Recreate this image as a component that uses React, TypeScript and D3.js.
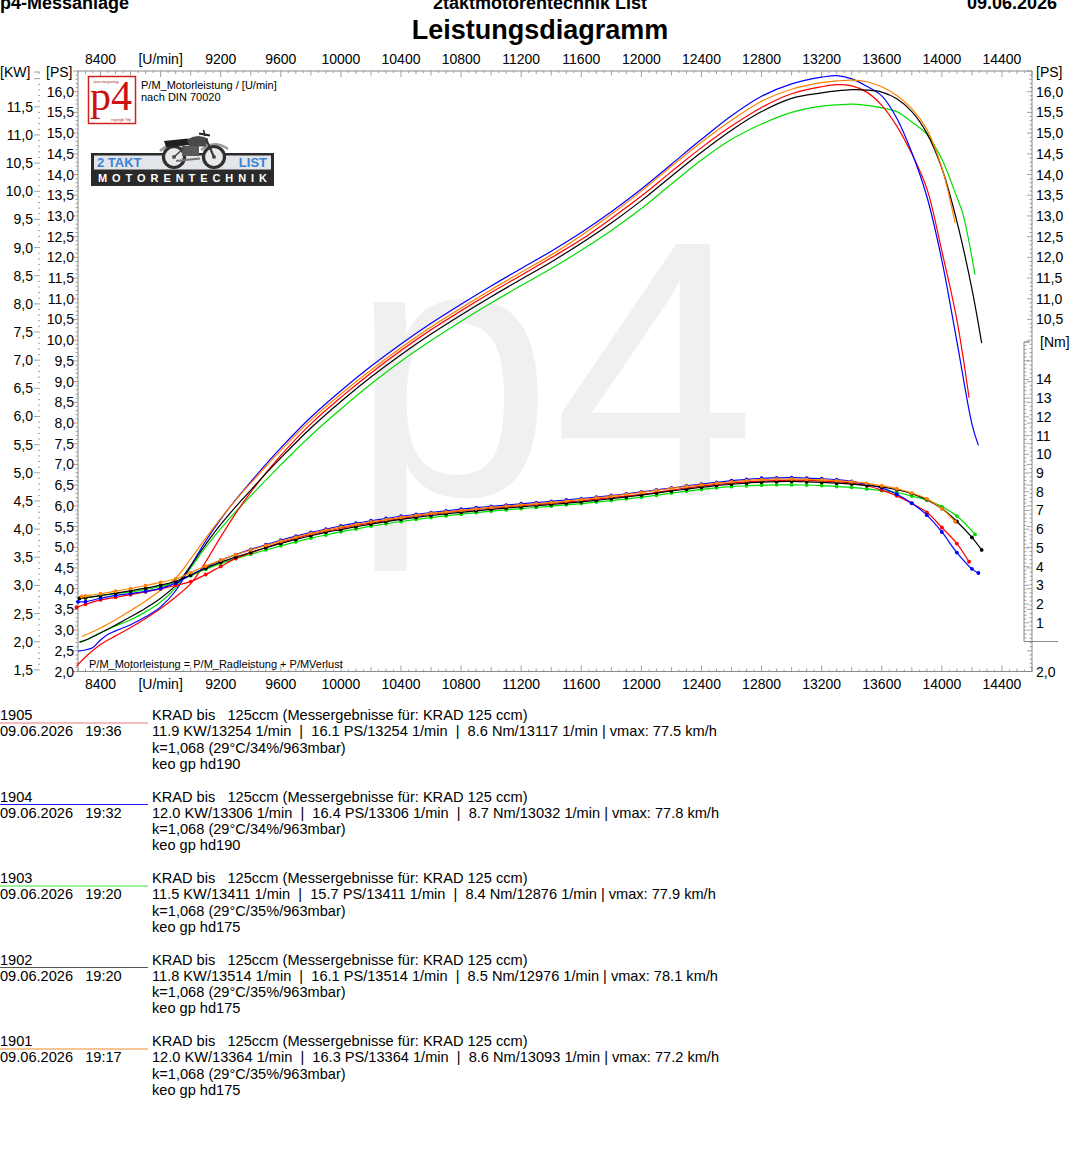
import React from 'react';
import * as d3 from 'd3';

type Pt = [number, number];

// ---------- DATA ----------
const runIds = ['1905', '1904', '1903', '1902', '1901'];
const runColors = ['#ff0000', '#0000ff', '#00dd00', '#000000', '#ff8000'];
const legendLineColors = ['#f07878', '#1c1cff', '#3ce03c', '#555555', '#f08a28'];
const runDate = '09.06.2026';
const runTimes = ['19:36', '19:32', '19:20', '19:20', '19:17'];
const runTitle = 'KRAD bis   125ccm (Messergebnisse für: KRAD 125 ccm)';
const runResults = [
  '11.9 KW/13254 1/min  |  16.1 PS/13254 1/min  |  8.6 Nm/13117 1/min | vmax: 77.5 km/h',
  '12.0 KW/13306 1/min  |  16.4 PS/13306 1/min  |  8.7 Nm/13032 1/min | vmax: 77.8 km/h',
  '11.5 KW/13411 1/min  |  15.7 PS/13411 1/min  |  8.4 Nm/12876 1/min | vmax: 77.9 km/h',
  '11.8 KW/13514 1/min  |  16.1 PS/13514 1/min  |  8.5 Nm/12976 1/min | vmax: 78.1 km/h',
  '12.0 KW/13364 1/min  |  16.3 PS/13364 1/min  |  8.6 Nm/13093 1/min | vmax: 77.2 km/h',
];
const runConditions = [
  'k=1,068 (29°C/34%/963mbar)',
  'k=1,068 (29°C/34%/963mbar)',
  'k=1,068 (29°C/35%/963mbar)',
  'k=1,068 (29°C/35%/963mbar)',
  'k=1,068 (29°C/35%/963mbar)',
];
const runNotes = ['keo gp hd190', 'keo gp hd190', 'keo gp hd175', 'keo gp hd175', 'keo gp hd175'];

// Power [rpm, PS]
const ps1905: Pt[] = [[8240,2.13],[8300,2.35],[8400,2.65],[8500,2.86],[8600,3.06],[8700,3.28],[8800,3.52],[8900,3.80],[9000,4.12],[9100,4.65],[9200,5.25],[9300,5.82],[9400,6.33],[9500,6.79],[9600,7.22],[9800,7.98],[10000,8.62],[10200,9.21],[10400,9.75],[10600,10.25],[10800,10.71],[11000,11.15],[11200,11.57],[11400,11.99],[11600,12.43],[11800,12.94],[12000,13.48],[12200,14.07],[12400,14.65],[12600,15.17],[12800,15.62],[13000,15.95],[13200,16.12],[13300,16.17],[13400,16.14],[13500,15.99],[13600,15.67],[13700,15.17],[13800,14.50],[13900,13.66],[14000,12.15],[14100,10.49],[14181,8.61]];
const ps1904: Pt[] = [[8250,2.49],[8300,2.52],[8350,2.58],[8400,2.76],[8450,2.90],[8500,2.98],[8600,3.13],[8700,3.32],[8800,3.56],[8900,3.95],[9000,4.55],[9100,5.15],[9200,5.68],[9300,6.15],[9400,6.58],[9500,7.00],[9600,7.40],[9800,8.14],[10000,8.78],[10200,9.37],[10400,9.91],[10600,10.41],[10800,10.87],[11000,11.31],[11200,11.73],[11400,12.15],[11600,12.60],[11800,13.10],[12000,13.65],[12200,14.25],[12400,14.85],[12600,15.42],[12800,15.89],[13000,16.19],[13200,16.35],[13300,16.39],[13400,16.31],[13500,16.13],[13600,15.90],[13700,15.36],[13800,14.53],[13900,13.47],[14000,11.93],[14100,9.97],[14200,7.98],[14243,7.46]];
const ps1903: Pt[] = [[8260,2.71],[8300,2.75],[8400,2.94],[8500,3.10],[8600,3.25],[8700,3.44],[8800,3.68],[8900,4.02],[9000,4.50],[9100,5.00],[9200,5.45],[9300,5.86],[9400,6.24],[9500,6.62],[9600,6.99],[9800,7.70],[10000,8.34],[10200,8.94],[10400,9.49],[10600,9.99],[10800,10.46],[11000,10.90],[11200,11.32],[11400,11.73],[11600,12.17],[11800,12.65],[12000,13.18],[12200,13.77],[12400,14.35],[12600,14.85],[12800,15.22],[13000,15.50],[13200,15.65],[13300,15.68],[13400,15.70],[13500,15.67],[13600,15.61],[13700,15.52],[13800,15.27],[13900,14.97],[14000,14.37],[14100,13.45],[14140,13.05],[14221,11.58]];
const ps1902: Pt[] = [[8260,2.71],[8300,2.76],[8400,2.93],[8500,3.12],[8600,3.32],[8700,3.53],[8800,3.77],[8900,4.08],[9000,4.55],[9100,5.07],[9200,5.55],[9300,5.98],[9400,6.38],[9500,6.78],[9600,7.16],[9800,7.88],[10000,8.52],[10200,9.11],[10400,9.65],[10600,10.15],[10800,10.61],[11000,11.05],[11200,11.47],[11400,11.89],[11600,12.34],[11800,12.83],[12000,13.37],[12200,13.96],[12400,14.54],[12600,15.07],[12800,15.52],[13000,15.84],[13200,15.97],[13300,16.02],[13400,16.05],[13500,16.04],[13600,15.99],[13700,15.83],[13800,15.52],[13900,15.00],[14000,14.15],[14100,12.87],[14200,11.24],[14265,9.93]];
const ps1901: Pt[] = [[8275,2.84],[8300,2.88],[8400,3.05],[8500,3.25],[8600,3.47],[8700,3.70],[8800,3.96],[8900,4.25],[9000,4.72],[9100,5.22],[9200,5.70],[9300,6.14],[9400,6.55],[9500,6.95],[9600,7.34],[9800,8.07],[10000,8.70],[10200,9.28],[10400,9.82],[10600,10.32],[10800,10.78],[11000,11.22],[11200,11.64],[11400,12.06],[11600,12.53],[11800,13.04],[12000,13.60],[12200,14.20],[12400,14.78],[12600,15.31],[12800,15.77],[13000,16.06],[13200,16.22],[13300,16.26],[13400,16.28],[13500,16.24],[13600,16.12],[13700,15.91],[13800,15.59],[13900,15.09],[14000,14.16],[14088,12.83]];

// Torque [rpm, Nm]
const nm1905: Pt[] = [[8240,1.82],[8300,1.99],[8400,2.22],[8500,2.36],[8600,2.50],[8700,2.65],[8800,2.81],[8900,3.00],[9000,3.20],[9100,3.58],[9200,4.01],[9300,4.44],[9400,4.73],[9500,5.02],[9600,5.28],[9700,5.50],[9800,5.72],[9900,5.89],[10000,6.05],[10100,6.20],[10200,6.34],[10300,6.46],[10400,6.58],[10500,6.69],[10600,6.79],[10700,6.89],[10800,6.97],[10900,7.05],[11000,7.13],[11100,7.19],[11200,7.26],[11300,7.32],[11400,7.38],[11500,7.45],[11600,7.52],[11700,7.61],[11800,7.69],[11900,7.77],[12000,7.86],[12100,7.96],[12200,8.09],[12300,8.20],[12400,8.30],[12500,8.39],[12600,8.46],[12700,8.53],[12800,8.57],[12900,8.60],[13000,8.62],[13100,8.61],[13200,8.58],[13300,8.54],[13400,8.46],[13500,8.32],[13600,8.09],[13700,7.78],[13800,7.38],[13900,6.90],[14000,6.09],[14100,5.23],[14181,4.26]];
const nm1904: Pt[] = [[8250,2.12],[8300,2.13],[8400,2.31],[8500,2.46],[8600,2.56],[8700,2.68],[8800,2.84],[8900,3.12],[9000,3.55],[9100,3.97],[9200,4.34],[9300,4.64],[9400,4.92],[9500,5.17],[9600,5.41],[9700,5.63],[9800,5.83],[9900,6.00],[10000,6.17],[10100,6.32],[10200,6.45],[10300,6.57],[10400,6.69],[10500,6.79],[10600,6.89],[10700,6.98],[10800,7.07],[10900,7.15],[11000,7.22],[11100,7.29],[11200,7.36],[11300,7.42],[11400,7.49],[11500,7.56],[11600,7.63],[11700,7.71],[11800,7.80],[11900,7.89],[12000,7.99],[12100,8.10],[12200,8.20],[12300,8.31],[12400,8.41],[12500,8.50],[12600,8.59],[12700,8.66],[12800,8.72],[12900,8.74],[13000,8.75],[13100,8.73],[13200,8.70],[13300,8.65],[13400,8.55],[13500,8.39],[13600,8.21],[13700,7.87],[13800,7.39],[13900,6.75],[14000,5.85],[14100,4.75],[14200,3.88],[14243,3.66]];
const nm1903: Pt[] = [[8260,2.30],[8300,2.33],[8400,2.46],[8500,2.56],[8600,2.65],[8700,2.78],[8800,2.94],[8900,3.17],[9000,3.51],[9100,3.86],[9200,4.16],[9300,4.43],[9400,4.66],[9500,4.89],[9600,5.11],[9700,5.32],[9800,5.52],[9900,5.69],[10000,5.86],[10100,6.01],[10200,6.16],[10300,6.29],[10400,6.41],[10500,6.52],[10600,6.62],[10700,6.71],[10800,6.80],[10900,6.88],[11000,6.96],[11100,7.03],[11200,7.10],[11300,7.16],[11400,7.23],[11500,7.30],[11600,7.37],[11700,7.45],[11800,7.53],[11900,7.62],[12000,7.71],[12100,7.81],[12200,7.93],[12300,8.03],[12400,8.13],[12500,8.21],[12600,8.27],[12700,8.32],[12800,8.35],[12900,8.37],[13000,8.37],[13100,8.36],[13200,8.33],[13300,8.28],[13400,8.23],[13500,8.15],[13600,8.06],[13700,7.96],[13800,7.77],[13900,7.56],[14000,7.21],[14100,6.70],[14221,5.72]];
const nm1902: Pt[] = [[8260,2.30],[8300,2.34],[8400,2.45],[8500,2.58],[8600,2.71],[8700,2.85],[8800,3.01],[8900,3.22],[9000,3.55],[9100,3.91],[9200,4.24],[9300,4.51],[9400,4.77],[9500,5.01],[9600,5.24],[9700,5.45],[9800,5.65],[9900,5.83],[10000,5.98],[10100,6.13],[10200,6.27],[10300,6.40],[10400,6.52],[10500,6.63],[10600,6.73],[10700,6.82],[10800,6.90],[10900,6.98],[11000,7.06],[11100,7.13],[11200,7.19],[11300,7.26],[11400,7.32],[11500,7.39],[11600,7.46],[11700,7.54],[11800,7.63],[11900,7.72],[12000,7.82],[12100,7.93],[12200,8.04],[12300,8.14],[12400,8.24],[12500,8.33],[12600,8.40],[12700,8.46],[12800,8.51],[12900,8.54],[13000,8.55],[13100,8.53],[13200,8.50],[13300,8.46],[13400,8.41],[13500,8.34],[13600,8.26],[13700,8.11],[13800,7.90],[13900,7.58],[14000,7.10],[14100,6.41],[14200,5.56],[14265,4.89]];
const nm1901: Pt[] = [[8275,2.41],[8300,2.44],[8400,2.55],[8500,2.69],[8600,2.83],[8700,2.99],[8800,3.16],[8900,3.35],[9000,3.68],[9100,4.03],[9200,4.35],[9300,4.64],[9400,4.89],[9500,5.13],[9600,5.36],[9700,5.57],[9800,5.78],[9900,5.95],[10000,6.11],[10100,6.25],[10200,6.39],[10300,6.51],[10400,6.63],[10500,6.74],[10600,6.84],[10700,6.93],[10800,7.01],[10900,7.09],[11000,7.16],[11100,7.23],[11200,7.30],[11300,7.36],[11400,7.43],[11500,7.50],[11600,7.59],[11700,7.67],[11800,7.76],[11900,7.86],[12000,7.96],[12100,8.07],[12200,8.18],[12300,8.28],[12400,8.37],[12500,8.46],[12600,8.53],[12700,8.60],[12800,8.65],[12900,8.67],[13000,8.68],[13100,8.66],[13200,8.63],[13300,8.59],[13400,8.53],[13500,8.45],[13600,8.32],[13700,8.16],[13800,7.93],[13900,7.62],[14000,7.10],[14088,6.40]];

const psRuns = [ps1905, ps1904, ps1903, ps1902, ps1901];
const nmRuns = [nm1905, nm1904, nm1903, nm1902, nm1901];

// Axis labels
const rpmLabels = [8400, 9200, 9600, 10000, 10400, 10800, 11200, 11600, 12000, 12400, 12800, 13200, 13600, 14000, 14400];
const rpmUnitAt = 8800;
const psLabelsLeft = d3.range(4, 33).map((v) => v / 2);
const kwLabels = d3.range(3, 24).map((v) => v / 2);
const psLabelsRight = [16, 15.5, 15, 14.5, 14, 13.5, 13, 12.5, 12, 11.5, 11, 10.5, 2];
const nmLabels = d3.range(1, 15);

// ---------- LAYOUT ----------
const W = 1080;
const H = 1154;
const FONT = '"Liberation Sans", Arial, Helvetica, sans-serif';
const L = 78, R = 1032, T = 71, B = 671.5;
const AX = '#8a8a8a';

const x = d3.scaleLinear().domain([8250, 14600]).range([L, R]);
const yPS = d3.scaleLinear().domain([2, 16.5]).range([B, T]);
const yKW = d3.scaleLinear().domain([2 * 0.7355, 16.5 * 0.7355]).range([B, T]);
const yNm = d3.scaleLinear().domain([0, 16]).range([641.5, 342]);

const fmt1 = (v: number) => d3.format('.1f')(v).replace('.', ',');

const powerLine = d3.line<Pt>().x((d) => x(d[0])).y((d) => yPS(d[1])).curve(d3.curveCatmullRom.alpha(0.5));
const torqueLine = d3.line<Pt>().x((d) => x(d[0])).y((d) => yNm(d[1])).curve(d3.curveCatmullRom.alpha(0.5));

const drawOrder = [2, 0, 1, 3, 4];

function Bike() {
  return (
    <g>
      <path d="M160 151 Q174 138 188 149" fill="none" stroke="#9a9a9a" strokeWidth={2.4} />
      <path d="M201 150 Q214 139 228 149" fill="none" stroke="#9a9a9a" strokeWidth={2.4} />
      <circle cx={174} cy={157} r={10.5} fill="#e8e8e8" stroke="#303030" strokeWidth={3.2} />
      <circle cx={214} cy={157} r={10.5} fill="#e8e8e8" stroke="#303030" strokeWidth={3.2} />
      <circle cx={174} cy={157} r={2} fill="#555" />
      <circle cx={214} cy={157} r={2} fill="#555" />
      <path d="M164 141 L188 138.5 L190 145 L166 147 Z" fill="#1e1e1e" />
      <path d="M187 139.5 Q197 133 208 138.5 L206 146.5 L189 146.5 Z" fill="#4a4a4a" />
      <rect x={182} y={146} width={17} height={10} fill="#5a5a5a" />
      <line x1={206} y1={139} x2={214} y2={157} stroke="#333" strokeWidth={2} />
      <line x1={199} y1={133.5} x2={210} y2={135.5} stroke="#222" strokeWidth={2} />
      <line x1={203.5} y1={130} x2={205} y2={136} stroke="#222" strokeWidth={1.5} />
      <line x1={176} y1={161} x2={200} y2={158.5} stroke="#777" strokeWidth={2} />
      <line x1={174} y1={157} x2={184} y2={148} stroke="#444" strokeWidth={1.5} />
    </g>
  );
}

export default function App() {
  const xMinor = d3.range(8250, 14601, 50);
  const psTicks = d3.range(20, 166).map((v) => v / 10);
  const kwTicks = d3.range(15, 122).map((v) => v / 10);
  const nmTicks = d3.range(0, 81).map((v) => v / 5);

  const xTickLen = (r: number) => (r % 400 === 0 ? 6 : r % 200 === 0 ? 4.5 : r % 100 === 0 ? 3 : 2);
  const isHalf = (v: number) => Math.abs(v * 2 - Math.round(v * 2)) < 1e-6;
  const isInt = (v: number) => Math.abs(v - Math.round(v)) < 1e-6;

  const legendY0 = 720;
  const legendStep = 81.5;
  const lineH = 16.3;

  return (
    <svg
      width={W}
      height={H}
      viewBox={`0 0 ${W} ${H}`}
      style={{ position: 'absolute', left: 0, top: 0, background: '#fff' }}
      fontFamily={FONT}
    >
      <rect x={0} y={0} width={W} height={H} fill="#fff" />

      {/* Header */}
      <text x={0} y={9} fontSize={18} fontWeight="bold">p4-Messanlage</text>
      <text x={540} y={9} fontSize={18} fontWeight="bold" textAnchor="middle">2taktmotorentechnik List</text>
      <text x={1057} y={9} fontSize={18} fontWeight="bold" textAnchor="end">{runDate}</text>
      <text x={540} y={39} fontSize={27} fontWeight="bold" textAnchor="middle">Leistungsdiagramm</text>

      {/* Watermark */}
      <text x={350} y={495} fontSize={365} fill="#f0f0f0">p4</text>

      {/* Frame */}
      <rect x={L} y={T} width={R - L} height={B - T} fill="none" stroke={AX} strokeWidth={1} />

      {/* X ticks top & bottom */}
      {xMinor.map((r) => (
        <g key={'xt' + r}>
          <line x1={x(r)} x2={x(r)} y1={T} y2={T + xTickLen(r)} stroke={AX} strokeWidth={0.8} />
          <line x1={x(r)} x2={x(r)} y1={B} y2={B - xTickLen(r)} stroke={AX} strokeWidth={0.8} />
        </g>
      ))}
      {rpmLabels.map((r) => (
        <g key={'xl' + r}>
          <text x={x(r)} y={64} fontSize={14} textAnchor="middle">{r}</text>
          <text x={x(r)} y={689} fontSize={14} textAnchor="middle">{r}</text>
        </g>
      ))}
      <text x={x(rpmUnitAt)} y={64} fontSize={14} textAnchor="middle">[U/min]</text>
      <text x={x(rpmUnitAt)} y={689} fontSize={14} textAnchor="middle">[U/min]</text>

      {/* Left PS axis */}
      {psTicks.map((v) => (
        <line key={'pl' + v} x1={L} x2={L - (isHalf(v) ? 5 : 2.5)} y1={yPS(v)} y2={yPS(v)} stroke={AX} strokeWidth={0.8} />
      ))}
      {psLabelsLeft.map((v) => (
        <text key={'plt' + v} x={74} y={yPS(v) + 5} fontSize={14} textAnchor="end">{fmt1(v)}</text>
      ))}
      <text x={46} y={77} fontSize={14}>[PS]</text>

      {/* KW axis */}
      {kwTicks.map((v) => (
        <line key={'kt' + v} x1={40} x2={40 - (isHalf(v) ? 6 : 2)} y1={yKW(v)} y2={yKW(v)} stroke={AX} strokeWidth={0.8} />
      ))}
      {kwLabels.map((v) => (
        <text key={'ktl' + v} x={33} y={yKW(v) + 5} fontSize={14} textAnchor="end">{fmt1(v)}</text>
      ))}
      <text x={0} y={77} fontSize={14}>[KW]</text>
      <line x1={34} x2={40} y1={72} y2={72} stroke={AX} strokeWidth={0.8} />

      {/* Right PS axis */}
      {psTicks.map((v) => (
        <line key={'pr' + v} x1={R} x2={R - (isHalf(v) ? 5 : 2.5)} y1={yPS(v)} y2={yPS(v)} stroke={AX} strokeWidth={0.8} />
      ))}
      {psLabelsRight.map((v) => (
        <text key={'prt' + v} x={1036} y={yPS(v) + 5} fontSize={14}>{fmt1(v)}</text>
      ))}
      <text x={1036} y={77} fontSize={14}>[PS]</text>

      {/* Nm axis */}
      <line x1={1024} x2={1024} y1={yNm(16)} y2={yNm(0)} stroke={AX} strokeWidth={1} />
      <line x1={1024} x2={1058} y1={yNm(0)} y2={yNm(0)} stroke={AX} strokeWidth={1} />
      <line x1={1024} x2={1030} y1={yNm(16)} y2={yNm(16)} stroke={AX} strokeWidth={1} />
      {nmTicks.map((v) => (
        <line key={'nt' + v} x1={1024} x2={1024 + (isInt(v) ? 5 : 2.5)} y1={yNm(v)} y2={yNm(v)} stroke={AX} strokeWidth={0.8} />
      ))}
      {nmLabels.map((v) => (
        <text key={'ntl' + v} x={1036} y={yNm(v) + 5} fontSize={14}>{v}</text>
      ))}
      <text x={1040} y={347} fontSize={14}>[Nm]</text>

      {/* Logos and notes */}
      <rect x={88.5} y={76.5} width={47} height={47} fill="#fff" stroke="#d42020" strokeWidth={1.5} />
      <text x={106} y={82.5} fontSize={3.4} textAnchor="middle" fill="#a02020" fontFamily='"Liberation Serif", serif'>Auswertungsanlage</text>
      <text x={90} y={110} fontSize={42} fill="#cc1111" fontFamily='"Liberation Serif", "Times New Roman", serif'>p4</text>
      <text x={121} y={120.5} fontSize={3.4} textAnchor="middle" fill="#a02020" fontFamily='"Liberation Serif", serif'>copyright *tdp</text>
      <text x={141} y={89} fontSize={11}>P/M_Motorleistung / [U/min]</text>
      <text x={141} y={101} fontSize={11}>nach DIN 70020</text>

      <rect x={91} y={153} width={183} height={33} fill="#2a2a2a" />
      <rect x={94} y={155.5} width={177} height={14} fill="#e2e5ea" />
      <text x={97} y={167} fontSize={13} fontWeight="900" fill="#3b82d6">2 TAKT</text>
      <text x={267} y={167} fontSize={13} fontWeight="900" fill="#3b82d6" textAnchor="end">LIST</text>
      <text x={98} y={182} fontSize={11} fontWeight="bold" fill="#ffffff" textLength={169} lengthAdjust="spacing">MOTORENTECHNIK</text>
      <Bike />

      <text x={89} y={668} fontSize={11}>P/M_Motorleistung = P/M_Radleistung + P/MVerlust</text>

      {/* Power curves */}
      {drawOrder.map((i) => (
        <path key={'p' + i} d={powerLine(psRuns[i]) || ''} fill="none" stroke={runColors[i]} strokeWidth={1.2} />
      ))}

      {/* Torque curves */}
      {drawOrder.map((i) => (
        <g key={'t' + i}>
          <path d={torqueLine(nmRuns[i]) || ''} fill="none" stroke={runColors[i]} strokeWidth={1.2} />
          {nmRuns[i].map((d, k) => (
            <circle key={k} cx={x(d[0])} cy={yNm(d[1])} r={1.9} fill={runColors[i]} />
          ))}
        </g>
      ))}

      {/* Legend */}
      {runIds.map((id, i) => {
        const y0 = legendY0 + i * legendStep;
        return (
          <g key={'lg' + id} fontSize={14.6} style={{ whiteSpace: 'pre' }}>
            <text x={0} y={y0}>{id}</text>
            <line x1={0} x2={148} y1={y0 + 3} y2={y0 + 3} stroke={legendLineColors[i]} strokeWidth={1} />
            <text x={0} y={y0 + lineH} xmlSpace="preserve">{`${runDate}   ${runTimes[i]}`}</text>
            <text x={152} y={y0} xmlSpace="preserve">{runTitle}</text>
            <text x={152} y={y0 + lineH} xmlSpace="preserve">{runResults[i]}</text>
            <text x={152} y={y0 + 2 * lineH}>{runConditions[i]}</text>
            <text x={152} y={y0 + 3 * lineH}>{runNotes[i]}</text>
          </g>
        );
      })}
    </svg>
  );
}
